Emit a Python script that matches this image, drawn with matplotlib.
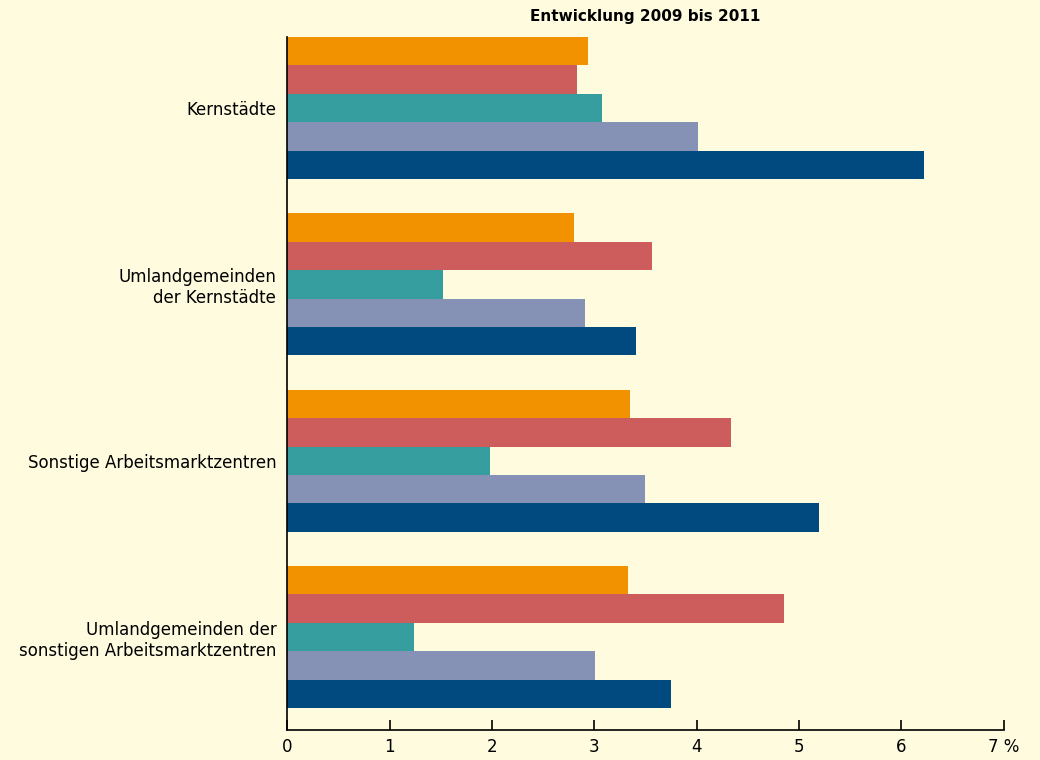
import matplotlib.pyplot as plt
import numpy as np

gruppen = ["Kernstädte", "Umlandgemeinden\nder Kernstädte", "Sonstige Arbeitsmarktzentren",
           "Umlandgemeinden der\nsonstigen Arbeitsmarktzentren"]

# fuenf Reihen pro Gruppe, von oben nach unten
reihe1 = [2.94, 2.80, 3.35, 3.33]
reihe2 = [2.83, 3.56, 4.33, 4.85]
reihe3 = [3.07, 1.52, 1.98, 1.24]
reihe4 = [4.01, 2.91, 3.49, 3.01]
reihe5 = [6.22, 3.41, 5.19, 3.75]

xticks = [0, 1, 2, 3, 4, 5, 6, 7]
xtick_labels = ["0", "1", "2", "3", "4", "5", "6", "7 %"]

farben = ["#f39200", "#cd5c5c", "#369e9f", "#8591b5", "#004a7f"]
hg = "#fefbdf"

fig = plt.figure(figsize=(10.4, 7.6), dpi=100, facecolor=hg)
ax = fig.add_axes([0.2764, 0.0395, 0.6887, 0.9118])
ax.set_facecolor(hg)

y = np.arange(len(gruppen))
h = 0.161
reihen = [reihe1, reihe2, reihe3, reihe4, reihe5]
for i, werte in enumerate(reihen):
    ax.barh(y - 2.5 * h + h * (i + 0.5), werte, height=h, color=farben[i], linewidth=0)

ax.set_ylim(3.527, -0.4027)
ax.set_xlim(0, 7)
ax.set_yticks(y)
ax.set_yticklabels(gruppen, fontsize=12, ha="right", multialignment="right")
ax.tick_params(axis="y", length=0, pad=8)
ax.set_xticks(xticks)
ax.set_xticklabels(xtick_labels, fontsize=12)
ax.tick_params(axis="x", direction="in", length=7.5, width=1.2, pad=6)

for s in ["top", "right"]:
    ax.spines[s].set_visible(False)
for s in ["left", "bottom"]:
    ax.spines[s].set_linewidth(1.2)

fig.text(0.62, 0.978, "Entwicklung 2009 bis 2011", fontsize=11, fontweight="bold",
         ha="center", va="center")

fig.savefig("out.png", dpi=100, facecolor=hg)
